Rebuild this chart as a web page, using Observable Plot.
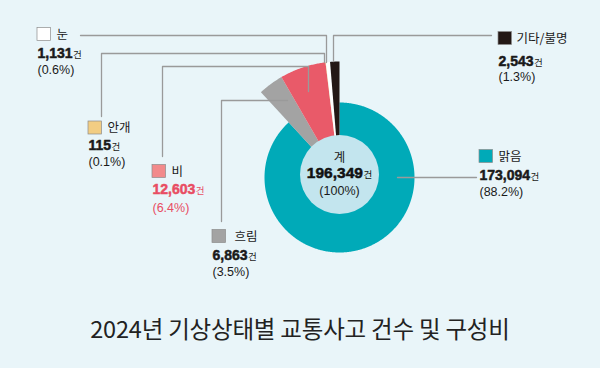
<!DOCTYPE html>
<html><head><meta charset="utf-8">
<script src="https://cdn.jsdelivr.net/npm/d3@7"></script>
<script src="https://cdn.jsdelivr.net/npm/@observablehq/plot@0.6"></script>
<style>
html,body{margin:0;padding:0;background:#e9f5f9;width:600px;height:368px;overflow:hidden;}
#title{height:68px;box-sizing:border-box;padding-top:12px;text-align:center;font-family:"Noto Sans CJK KR",sans-serif;font-size:23.5px;line-height:32px;color:#222;letter-spacing:-0.2px;}
</style></head>
<body>
<div id="chart"></div>
<div id="title">2024년 기상상태별 교통사고 건수 및 구성비</div>
<script>
// ---- data ----
const categories = ["맑음", "흐림", "비", "안개", "눈", "기타/불명"];
const counts = [173094, 6863, 12603, 115, 1131, 2543];
const shares = ["88.2%", "3.5%", "6.4%", "0.1%", "0.6%", "1.3%"];
const totalCount = 196349;
const totalShare = "100%";

// ---- styles ----
const sliceColors = ["#00aab8", "#a3a3a3", "#e95a69", "#f2cc80", "#ffffff", "#231815"];
const swatchColors = ["#00aab8", "#a3a3a3", "#f28a8b", "#f2cd83", "#ffffff", "#231815"];
const numColors = ["#1a1a1a", "#1a1a1a", "#e84d63", "#1a1a1a", "#1a1a1a", "#1a1a1a"];

// ---- layout (pixels) ----
const cx = 339, cy = 177;
const bigR = 75, smallR = 116;
// swatch left x, swatch centre y, name x, number baseline, percent baseline
const labelLayout = [
  {sx: 479, sy: 156, nx: 498, ny: 179, py: 195},
  {sx: 212, sy: 236, nx: 234, ny: 259, py: 275},
  {sx: 152, sy: 171, nx: 171, ny: 193, py: 211},
  {sx: 88,  sy: 127.5, nx: 107, ny: 149.5, py: 165},
  {sx: 37,  sy: 34, nx: 56, ny: 57, py: 73},
  {sx: 498, sy: 38, nx: 516, ny: 65, py: 80}
];
const leaderPaths = [
  [[397, 177], [476, 177]],
  [[221, 221], [221, 100], [287, 100]],
  [[162, 156], [162, 66], [308, 66], [308, 91]],
  [[101, 116], [101, 53], [324, 53], [324, 62]],
  [[80, 35], [326, 35], [326, 62]],
  [[333, 61], [333, 35], [491, 35]]
];

// ---- pie geometry from the values ----
const arcs = d3.pie().sort(null).value(d => d)(counts);
const slicePts = [];
arcs.forEach((a, k) => {
  const r = k === 0 ? bigR : smallR;
  slicePts.push({k, x: cx, y: cy});
  const n = Math.max(2, Math.ceil((a.endAngle - a.startAngle) / (Math.PI / 360)));
  for (let i = 0; i <= n; i++) {
    const t = a.startAngle + (a.endAngle - a.startAngle) * i / n;
    slicePts.push({k, x: cx + r * Math.sin(t), y: cy - r * Math.cos(t)});
  }
});
const leaderPts = leaderPaths.flatMap((p, k) => p.map(([x, y]) => ({k, x, y})));

const rows = categories.map((c, i) => ({i, name: c, count: counts[i], share: shares[i], ...labelLayout[i]}));
const fmt = d3.format(",");
const KR = "Noto Sans CJK KR";
const NUM = "Liberation Sans, Noto Sans CJK KR";

const chart = Plot.plot({
  width: 600, height: 300, margin: 0,
  style: {background: "#e9f5f9", overflow: "visible"},
  x: {domain: [0, 600], range: [0, 600], axis: null},
  y: {domain: [0, 300], range: [0, 300], axis: null},
  marks: [
    Plot.line(slicePts, {x: "x", y: "y", z: "k", curve: "linear-closed", fill: d => sliceColors[d.k], stroke: null}),
    Plot.dot([0], {x: () => cx, y: () => cy - 3, r: 39.5, fill: "#c3e5ee", stroke: null}),
    Plot.line(leaderPts, {x: "x", y: "y", z: "k", stroke: "#9a9a9a", strokeWidth: 1.3}),
    Plot.text(["계"], {x: () => cx, y: () => 157, fontFamily: KR, fontSize: 12.5, fill: "#1a1a1a"}),
    Plot.text([fmt(totalCount) + "건"], {x: () => cx, y: () => 173, fontFamily: NUM, fontWeight: "bold", fontSize: 15.5, fill: "#111", stroke: "#111", strokeWidth: 0.5}),
    Plot.text(["(" + totalShare + ")"], {x: () => cx, y: () => 190, fontFamily: NUM, fontSize: 12.5, fill: "#1a1a1a"}),
    Plot.rect(rows, {x1: d => d.sx, x2: d => d.sx + 13.5, y1: d => d.sy - 6.5, y2: d => d.sy + 6.5, fill: d => swatchColors[d.i], stroke: "#8c8c8c", strokeWidth: 0.7}),
    Plot.text(rows, {x: "nx", y: "sy", text: "name", textAnchor: "start", fontFamily: KR, fontSize: 12.5, fill: "#1a1a1a"}),
    Plot.text(rows, {x: "sx", y: "ny", text: d => fmt(d.count) + "건", textAnchor: "start", lineAnchor: "bottom", fontFamily: NUM, fontWeight: "bold", fontSize: 14, fill: d => numColors[d.i], stroke: d => numColors[d.i], strokeWidth: 0.5}),
    Plot.text(rows, {x: "sx", y: "py", text: d => "(" + d.share + ")", textAnchor: "start", lineAnchor: "bottom", fontFamily: NUM, fontSize: 12.5, fill: d => numColors[d.i]})
  ]
});

d3.select(chart).selectAll("text").each(function () {
  const t = this.textContent;
  if (/^[\d,]+건$/.test(t)) {
    const sel = d3.select(this);
    sel.text("");
    sel.append("tspan").text(t.slice(0, -1));
    sel.append("tspan").attr("font-size", 9.5).attr("font-weight", "normal").attr("stroke-width", 0).attr("font-family", KR).attr("dx", 0.5).text("건");
  }
});
document.getElementById("chart").appendChild(chart);
</script>
</body></html>
